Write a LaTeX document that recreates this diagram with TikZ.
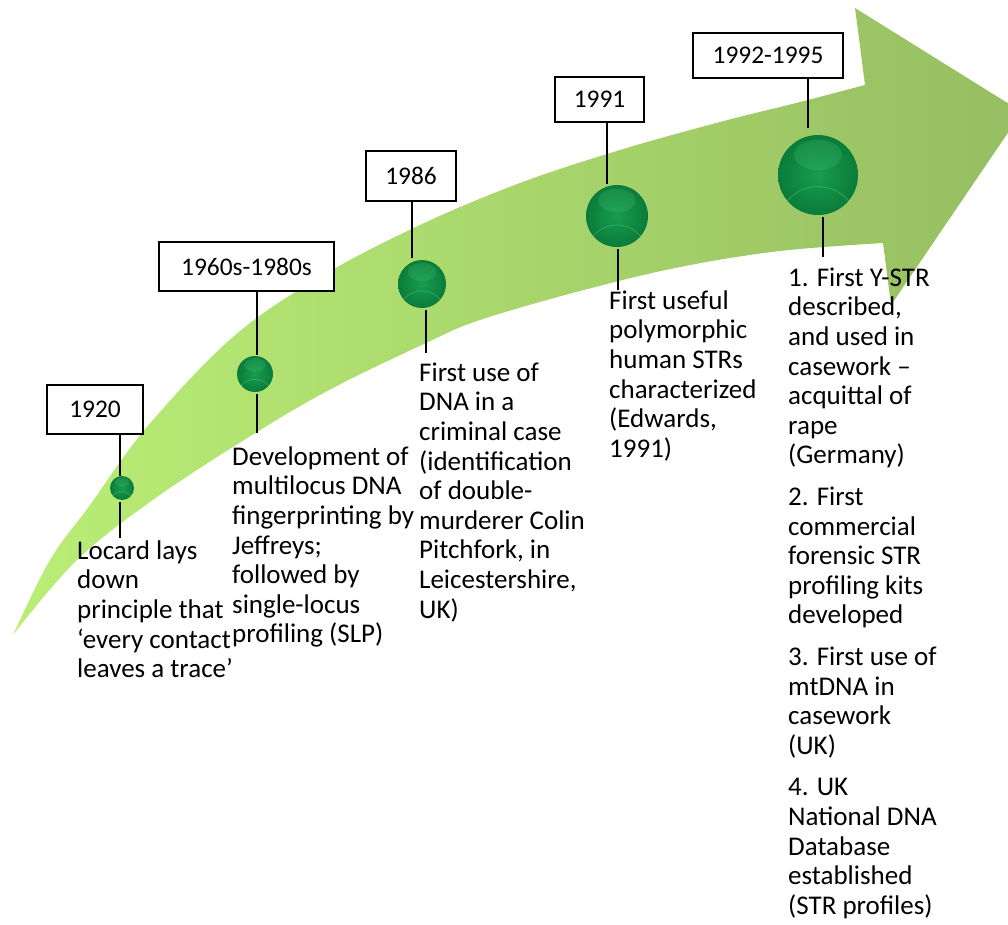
\documentclass[tikz,border=0pt]{standalone}
\usepackage{fontspec}
\setmainfont{Carlito}
\definecolor{arrowL}{RGB}{186,238,118}
\definecolor{arrowR}{RGB}{150,190,98}
\definecolor{ballIn}{RGB}{24,156,80}
\definecolor{ballOut}{RGB}{10,124,58}
\definecolor{ballHi}{RGB}{90,215,140}
\definecolor{ballRim}{RGB}{120,215,140}
\begin{document}
\begin{tikzpicture}[x=1pt,y=-1pt,
  yearbox/.style={draw=black, line width=1.9pt, fill=white, inner sep=0pt,
    font=\fontsize{25.4}{28}\selectfont},
  ball/.style={circle, inner sep=0pt, shade, inner color=ballIn, outer color=ballOut},
  stem/.style={line width=2.2pt, black},
  note/.style={anchor=north west, inner sep=0pt, align=left,
    font=\fontsize{27}{29.6}\selectfont}
]
\useasboundingbox (0,0) rectangle (1008,924);

% curved timeline arrow
\shade[left color=arrowL, right color=arrowR]
  plot[smooth, tension=0.6] coordinates {(13,635) (50,560) (90,505) (147,427) (233,337)
    (320,277) (420,225) (520,183) (620,150) (720,122) (800,102) (865,85)}
  -- (855,8) -- (1022,112) -- (891,305) -- (883,243)
  -- plot[smooth, tension=0.6] coordinates {(883,243) (780,251) (680,267) (580,291)
    (480,320) (426,343) (333,388) (257,432) (157,497) (77,560) (13,635)}
  -- cycle;

% milestones
\node[ball, minimum size=24] (c1) at (122,488) {};
\node[ball, minimum size=36] (c2) at (255,374) {};
\node[ball, minimum size=48] (c3) at (422,284) {};
\node[ball, minimum size=62] (c4) at (617,216) {};
\node[ball, minimum size=80] (c5) at (818,175) {};
\foreach \n/\r in {c1/12, c2/18, c3/24, c4/31, c5/40} {
  \fill[ballHi, opacity=0.18] ([yshift={0.5*\r pt}]\n.center) ellipse ({0.6*\r} and {0.38*\r});
  \draw[ballRim, line width=0.8pt, opacity=0.35] (\n.220) arc[start angle=-140, end angle=-40, radius=\r];
}

% year labels
\node[yearbox, minimum width=96, minimum height=49] (b1) at (95,409.5) {1920};
\node[yearbox, minimum width=175, minimum height=49] (b2) at (246.5,266.5) {1960s-1980s};
\node[yearbox, minimum width=90, minimum height=50] (b3) at (411,176) {1986};
\node[yearbox, minimum width=89, minimum height=45] (b4) at (599.5,99.5) {1991};
\node[yearbox, minimum width=150, minimum height=45] (b5) at (768,55.5) {1992-1995};

% stem ends
\coordinate (u1) at (120,476);
\coordinate (u2) at (257,355);
\coordinate (u3) at (412,258);
\coordinate (u4) at (607,184);
\coordinate (u5) at (808,128);
\coordinate (e1) at (120,538);
\coordinate (e2) at (257,433);
\coordinate (e3) at (426,353);
\coordinate (e4) at (618,290);
\coordinate (e5) at (823,257);

\foreach \i in {1,...,5} {
  \draw[stem] (b\i.south -| u\i) -- (u\i);
  \draw[stem] ([yshift=-2pt]c\i.south -| e\i) -- (e\i);
}

% descriptions
\node[note] (t1) at (77,538.3) {\strut Locard lays\\down\\principle that\\‘every contact\\leaves a trace’};
\node[note] (t2) at (232,444.3) {\strut Development of\\multilocus DNA\\fingerprinting by\\Jeffreys;\\followed by\\single-locus\\profiling (SLP)};
\node[note] (t3) at (419,360.3) {\strut First use of\\DNA in a\\criminal case\\(identification\\of double-\\murderer Colin\\Pitchfork, in\\Leicestershire,\\UK)};
\node[note] (t4) at (609,288.3) {\strut First useful\\polymorphic\\human STRs\\characterized\\(Edwards,\\1991)};
\node[note] (t5) at (788,265.3) {\strut 1. First Y-STR\\described,\\and used in\\casework –\\acquittal of\\rape\\(Germany)\\[12pt]
2. First\\commercial\\forensic STR\\profiling kits\\developed\\[12pt]
3. First use of\\mtDNA in\\casework\\(UK)\\[12pt]
4. UK\\National DNA\\Database\\established\\(STR profiles)};
\end{tikzpicture}
\end{document}
